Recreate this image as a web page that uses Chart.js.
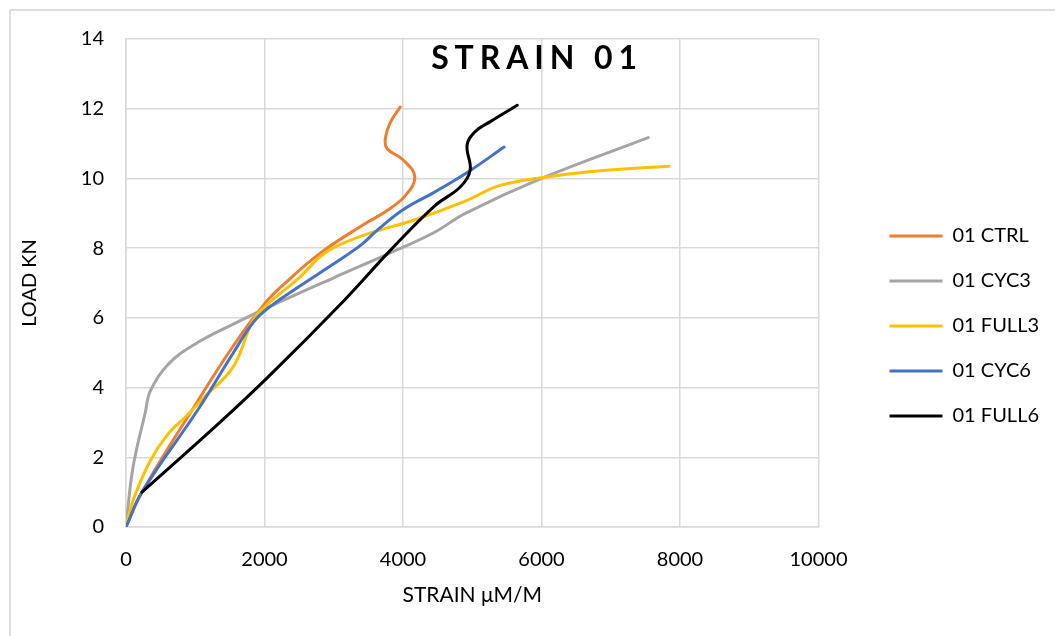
<!DOCTYPE html>
<html><head><meta charset="utf-8">
<script src="https://cdn.jsdelivr.net/npm/chart.js@4.4.1/dist/chart.umd.min.js"></script>
<style>
html,body{margin:0;padding:0;background:#fff;}
#wrap{position:relative;width:1055px;height:636px;overflow:hidden;background:#fff;}
#frame{position:absolute;left:9px;top:9px;width:1070px;height:660px;border:2px solid #dedede;box-sizing:border-box;}
#chart{position:absolute;left:0;top:0;}
#title{position:absolute;left:537px;top:41px;transform:translateX(-50%);font-family:Lato,"Open Sans",sans-serif;font-weight:bold;font-size:32px;letter-spacing:5.9px;color:#000;white-space:nowrap;line-height:1;}
</style>
</head><body>
<div id="wrap">
<div id="frame"></div>
<canvas id="chart" width="1055" height="636"></canvas>
<div id="title">STRAIN 01</div>
</div>
<script>
const seriesNames = ["01 CTRL","01 CYC3","01 FULL3","01 CYC6","01 FULL6"];
const seriesColors = ["#ED7D31","#A5A5A5","#FFC000","#4472C4","#000000"];

const ctrlStrain = [0,230,1000,1550,2000,2300,2800,3450,3750,4030,4170,3990,3770,3745,3815,3960];
const ctrlLoad   = [0,1.0,3.5,5.2,6.4,7.0,7.85,8.7,9.05,9.5,10.05,10.55,10.85,11.15,11.6,12.05];

const cyc3Strain = [0,100,280,350,600,1000,1550,2050,3000,3800,4450,4900,6000,7540];
const cyc3Load   = [0,1.7,3.3,3.9,4.65,5.25,5.82,6.3,7.15,7.85,8.45,9.0,10.0,11.17];

const full3Strain = [0,100,350,600,880,1120,1550,1840,2050,2500,2900,3480,4150,4900,5400,6100,6850,7840];
const full3Load   = [0,0.75,1.9,2.65,3.2,3.7,4.6,5.95,6.4,7.15,7.9,8.4,8.8,9.35,9.8,10.05,10.22,10.35];

const cyc6Strain = [0,230,1050,1550,1850,2100,2500,3000,3400,3620,4000,4450,4950,5460];
const cyc6Load   = [0,1.0,3.4,5.0,5.9,6.35,6.9,7.55,8.1,8.5,9.1,9.6,10.2,10.9];

const full6Strain = [230,1300,2050,3150,3800,4450,4830,4970,4925,5040,5260,5650];
const full6Load   = [1.0,2.9,4.3,6.5,7.9,9.2,9.76,10.24,10.96,11.34,11.63,12.1];

const xTicks = [0,2000,4000,6000,8000,10000];
const yTicks = [0,2,4,6,8,10,12,14];

const allStrain = [ctrlStrain,cyc3Strain,full3Strain,cyc6Strain,full6Strain];
const allLoad = [ctrlLoad,cyc3Load,full3Load,cyc6Load,full6Load];
const drawOrder = [4,3,2,1,0];

const datasets = seriesNames.map((n,i)=>({
  label:n,
  data: allStrain[i].map((x,j)=>({x:x,y:allLoad[i][j]})),
  borderColor: seriesColors[i],
  backgroundColor: seriesColors[i],
  borderWidth:3,
  showLine:true,
  pointRadius:0,
  pointHoverRadius:0,
  tension:0.4,
  borderCapStyle:'round',
  borderJoinStyle:'round',
  order: drawOrder[i]
}));

const gridColor = '#d9d9d9';
const fam = 'Lato, "Open Sans", sans-serif';
const tickFont = {family:fam, size:20};

// invisible gap box between plot area and legend
const legendGap = {
  id:'legendGap',
  beforeInit(chart){
    const box = {
      position:'right', weight:500, fullSize:false, options:{},
      width:46, height:0, left:0, top:0, right:0, bottom:0,
      isHorizontal(){ return false; },
      update(maxW, maxH){ this.width = 46; this.height = maxH; },
      draw(){}
    };
    Chart.layouts.addBox(chart, box);
  }
};

new Chart(document.getElementById('chart'), {
  type:'scatter',
  data:{datasets},
  plugins:[legendGap],
  options:{
    responsive:false,
    animation:false,
    events:[],
    layout:{padding:{top:39,bottom:23,left:0,right:6}},
    plugins:{
      tooltip:{enabled:false},
      title:{display:false},
      legend:{
        display:true,
        position:'right',
        align:'center',
        maxWidth:300,
        labels:{
          font:{family:fam, size:20},
          color:'#000',
          boxWidth:53,
          boxHeight:3,
          padding:25,
          generateLabels:(chart)=>chart.data.datasets.map((d,i)=>({
            text:d.label, fillStyle:d.borderColor, strokeStyle:d.borderColor,
            lineWidth:0, hidden:false, datasetIndex:i, fontColor:'#000'
          }))
        }
      }
    },
    scales:{
      x:{
        type:'linear', min:0, max:10000,
        afterBuildTicks:(s)=>{ s.ticks = xTicks.map(v=>({value:v})); },
        afterFit:(s)=>{ s.height = 86; },
        ticks:{font:tickFont, color:'#000', padding:21, maxRotation:0, callback:(v)=>String(v)},
        grid:{color:gridColor, lineWidth:1.5, drawTicks:false},
        border:{color:gridColor, width:1.5},
        title:{display:true, text:'STRAIN μM/M', font:{family:fam, size:21}, color:'#000', padding:{top:0,bottom:5}}
      },
      y:{
        type:'linear', min:0, max:14,
        afterBuildTicks:(s)=>{ s.ticks = yTicks.map(v=>({value:v})); },
        afterFit:(s)=>{ s.width = 126; },
        ticks:{font:tickFont, color:'#000', padding:22, callback:(v)=>String(v)},
        grid:{color:gridColor, lineWidth:1.5, drawTicks:false},
        border:{color:gridColor, width:1.5},
        title:{display:true, text:'LOAD KN', font:{family:fam, size:20}, color:'#000', padding:{top:18,bottom:0}}
      }
    }
  }
});
</script>
</body></html>
